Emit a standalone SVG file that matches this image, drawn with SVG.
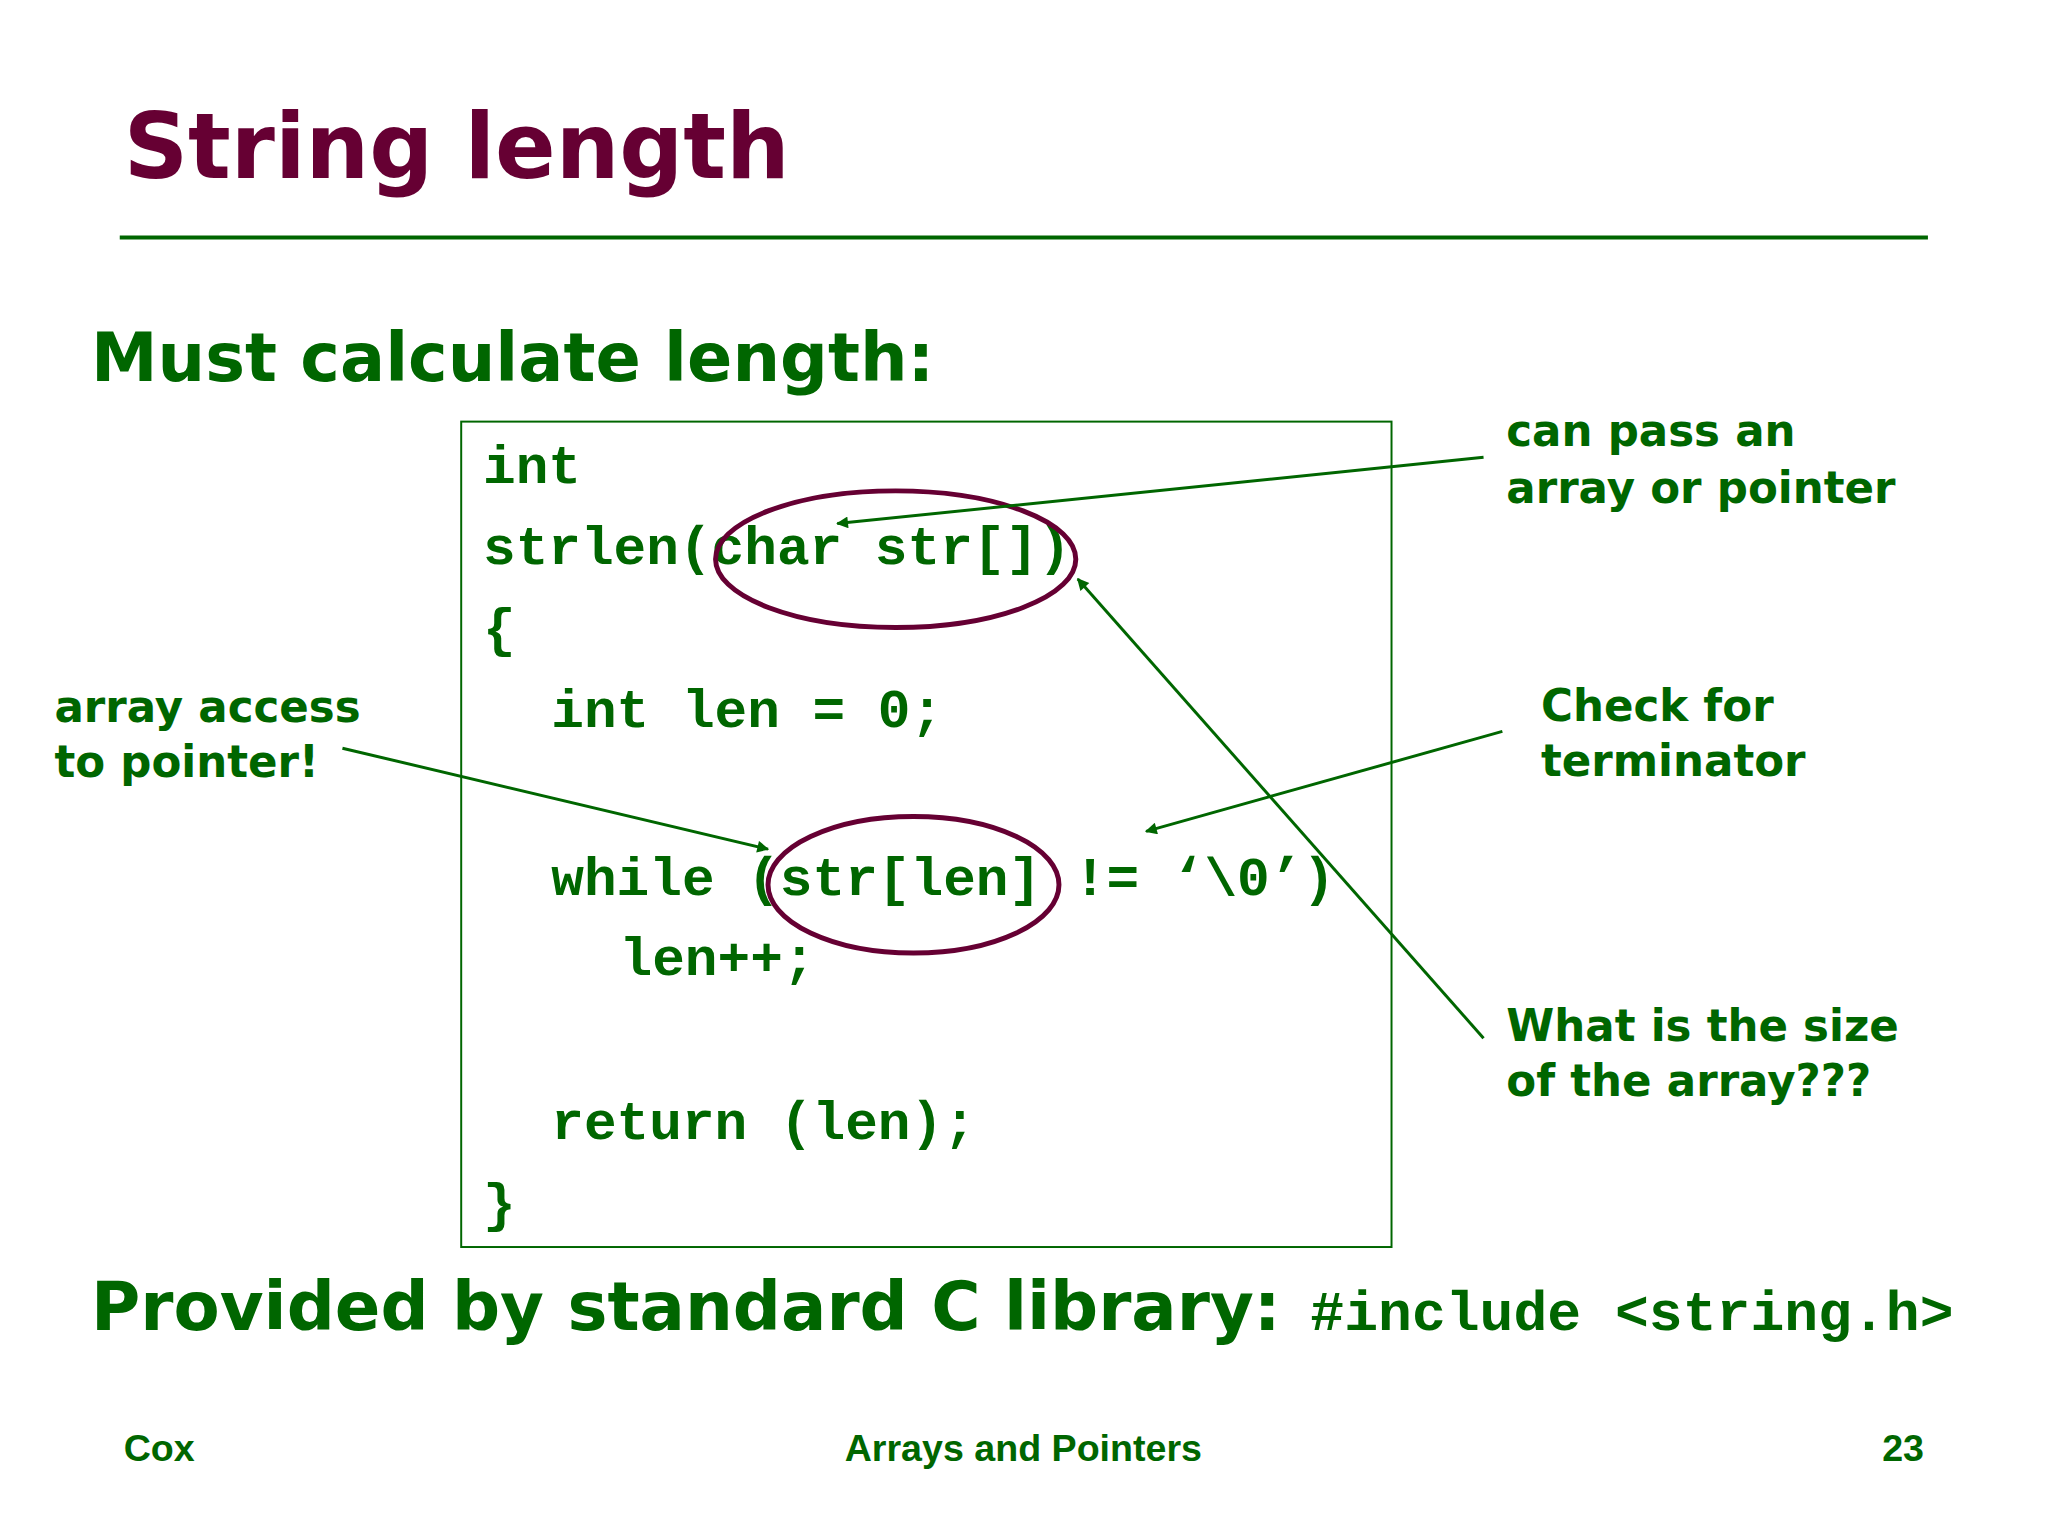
<svg xmlns="http://www.w3.org/2000/svg" width="2048" height="1536" viewBox="0 0 2048 1536">
<defs>
<style>
.h{font-family:"DejaVu Sans",Verdana,sans-serif;font-weight:bold;fill:#006600}
.c{font-family:"Liberation Mono","Courier New",monospace;font-weight:bold;fill:#006600;font-size:55px}
.a{font-family:"DejaVu Sans",Verdana,sans-serif;font-weight:bold;fill:#006600;font-size:44px}
.f{font-family:"Liberation Sans",Arial,sans-serif;font-weight:bold;fill:#006600;font-size:38px}
.e{fill:none;stroke:#660033;stroke-width:5}
.l{stroke:#006600;stroke-width:3;fill:none;marker-end:url(#ar)}
</style>
<marker id="ar" viewBox="0 0 10 10" refX="9" refY="5" markerWidth="16" markerHeight="12" orient="auto" markerUnits="userSpaceOnUse"><path d="M0,0L10,5L0,10z" fill="#006600"/></marker>
</defs>
<rect width="2048" height="1536" fill="#fff"/>
<g transform="scale(0.9897)">
<text x="125" y="180" class="h" style="fill:#660033;font-size:92px" textLength="673" lengthAdjust="spacingAndGlyphs">String length</text>
<line x1="121" y1="240" x2="1948" y2="240" stroke="#006600" stroke-width="4"/>
<text x="92" y="385" class="h" style="font-size:68px" textLength="852" lengthAdjust="spacingAndGlyphs">Must calculate length:</text>
<g id="code">
<rect x="466" y="426" width="940" height="834" fill="none" stroke="#006600" stroke-width="2"/>
<text class="c" x="488" y="488">int</text>
<text class="c" x="488" y="570">strlen(char str[])</text>
<text class="c" x="488" y="653">{</text>
<text class="c" x="557" y="735">int len = 0;</text>
<text class="c" x="557" y="904">while (str[len] != ‘\0’)</text>
<text class="c" x="626" y="985">len++;</text>
<text class="c" x="557" y="1151">return (len);</text>
<text class="c" x="488" y="1234">}</text>
</g>
<g id="circles">
<ellipse class="e" cx="905" cy="565" rx="182" ry="69"/>
<ellipse class="e" cx="923" cy="894" rx="147" ry="69"/>
</g>
<g id="n1"><text class="a" x="1522" y="451">can pass an</text><text class="a" x="1522" y="508">array or pointer</text></g>
<g id="n2"><text class="a" x="55" y="730">array access</text><text class="a" x="55" y="785">to pointer!</text></g>
<g id="n3"><text class="a" x="1557" y="729">Check for</text><text class="a" x="1557" y="784">terminator</text></g>
<g id="n4"><text class="a" x="1522" y="1052">What is the size</text><text class="a" x="1522" y="1107">of the array???</text></g>
<g id="connectors">
<line class="l" x1="1499" y1="462" x2="846" y2="529"/>
<line class="l" x1="346" y1="756" x2="776" y2="858"/>
<line class="l" x1="1518" y1="739" x2="1158" y2="840"/>
<line class="l" x1="1499" y1="1049" x2="1089" y2="585"/>
</g>
<text x="92" y="1344" class="h" style="font-size:68px" textLength="1202" lengthAdjust="spacingAndGlyphs">Provided by standard C library:</text>
<text x="1324" y="1344" class="c" style="font-size:57px">#include &lt;string.h&gt;</text>
<text x="125" y="1476" class="f">Cox</text>
<text x="1034" y="1476" class="f" text-anchor="middle">Arrays and Pointers</text>
<text x="1944" y="1476" class="f" text-anchor="end">23</text>
</g>
</svg>
